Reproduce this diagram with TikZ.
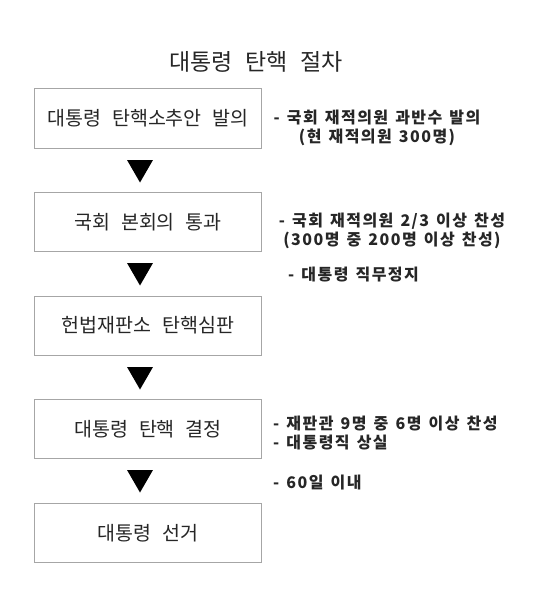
\documentclass[tikz,border=0pt]{standalone}
\usepackage{fontspec}
\setmainfont{Noto Sans CJK KR}
\newfontfamily\boxfont[WordSpace=1.6]{Noto Sans CJK KR}
\newfontfamily\titlefont[WordSpace=2.5]{Noto Sans CJK KR}
\newfontfamily\notefont[LetterSpace=9, WordSpace=1.4]{Noto Sans CJK KR}
\usetikzlibrary{shapes.geometric}
\begin{document}
\begin{tikzpicture}[x=1pt, y=1pt,
    stepbox/.style={draw=gray!70, line width=1pt, minimum width=227pt, minimum height=59pt, inner sep=0pt, font=\boxfont\fontsize{19.5}{22}\selectfont, text=black!85},
    downtri/.style={regular polygon, regular polygon sides=3, shape border rotate=180, fill=black, minimum size=30pt, inner sep=0pt},
    note/.style={font=\notefont\bfseries\fontsize{16}{19}\selectfont, text=black!85, inner sep=0pt}]
    \useasboundingbox (0,0) rectangle (547,-615);
    \node [font=\titlefont\fontsize{23}{26}\selectfont, text=black!85] (title) at (256,-62) {대통령 탄핵 절차};
    \node [stepbox] (propose) at (148,-118.5) {대통령 탄핵소추안 발의};
    \node [stepbox] (pass) at (148,-222) {국회 본회의 통과};
    \node [stepbox] (trial) at (148,-325.5) {헌법재판소 탄핵심판};
    \node [stepbox] (decide) at (148,-429) {대통령 탄핵 결정};
    \node [stepbox] (elect) at (148,-533) {대통령 선거};
    \node [downtri] (t1) at (140,-167.5) {};
    \node [downtri] (t2) at (140,-270.5) {};
    \node [downtri] (t3) at (140,-374.5) {};
    \node [downtri] (t4) at (140,-477.5) {};
    \node [note, align=center] (n1) at (377,-128) {- 국회 재적의원 과반수 발의\\(현 재적의원 300명)};
    \node [note, align=center] (n2) at (392,-231) {- 국회 재적의원 2/3 이상 찬성\\(300명 중 200명 이상 찬성)};
    \node [note, anchor=west] (n3) at (288,-275) {- 대통령 직무정지};
    \node [note, align=left, anchor=west] (n4) at (273,-433.5) {- 재판관 9명 중 6명 이상 찬성\\- 대통령직 상실};
    \node [note, anchor=west] (n5) at (273,-483) {- 60일 이내};
\end{tikzpicture}
\end{document}
